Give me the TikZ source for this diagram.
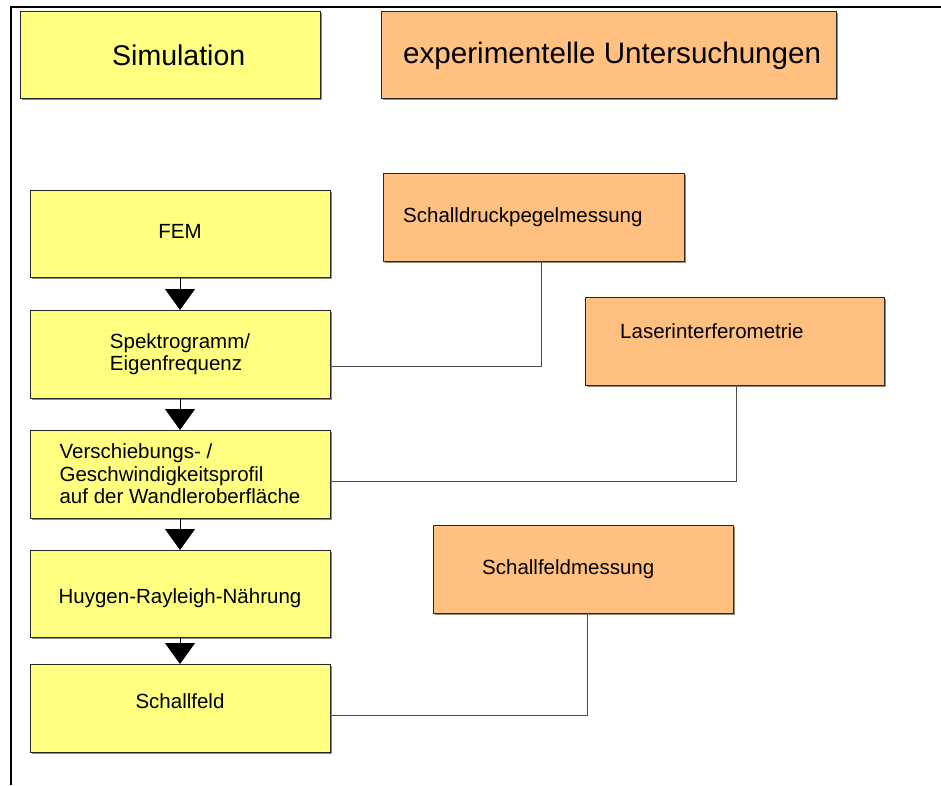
\documentclass[tikz,border=0pt]{standalone}
\usepackage{fontspec}
\setmainfont{Liberation Sans}
\usetikzlibrary{arrows.meta,shadows}
\definecolor{simfill}{RGB}{255,255,128}
\definecolor{expfill}{RGB}{255,192,128}
\definecolor{edge}{RGB}{40,40,40}
\begin{document}
\begin{tikzpicture}[x=1pt,y=-1pt,
  box/.style={anchor=north west, draw=edge, line width=0.8pt, inner sep=0pt, outer sep=0pt,
    drop shadow={shadow xshift=1.5pt, shadow yshift=-1.5pt, fill=black!45, opacity=1}},
  simbox/.style={box, fill=simfill, minimum width=300pt},
  expbox/.style={box, fill=expfill},
  small/.style={font=\fontsize{20.5}{22.5}\selectfont},
  txt/.style={anchor=base west, inner sep=0pt},
  flow/.style={line width=1pt, -{Triangle[width=30pt,length=21pt]}},
  link/.style={draw=black!70, line width=1pt}]
\useasboundingbox (0,0) rectangle (941,785);
% frame
\draw[line width=2.5pt] (11,785) -- (11,7) -- (941,7);
% header boxes
\node[simbox, minimum height=87pt] (sim) at (20,11) {};
\node[expbox, minimum width=455pt, minimum height=87pt] (exp) at (381,11) {};
\node[txt, font=\fontsize{28.5}{31}\selectfont] (simtxt) at (112,65) {Simulation};
\node[txt, font=\fontsize{29.6}{32}\selectfont] (exptxt) at (403,63) {experimentelle Untersuchungen};
% simulation chain
\node[simbox, minimum height=87pt] (fem) at (30,190) {};
\node[simbox, minimum height=88pt, small, align=left] (spek) at (30,310) {Spektrogramm/\\Eigenfrequenz};
\node[simbox, minimum height=88pt, small, align=left] (versch) at (30,430) {Verschiebungs- /\\Geschwindigkeitsprofil\\auf der Wandleroberfläche};
\node[simbox, minimum height=87pt] (huy) at (30,550) {};
\node[simbox, minimum height=88pt] (feld) at (30,664) {};
\node[small, inner sep=0pt] (femtxt) at ([yshift=2pt]fem.center) {FEM};
\node[small, inner sep=0pt] (huytxt) at ([yshift=-5pt]huy.center) {Huygen-Rayleigh-Nährung};
\node[small, inner sep=0pt] (feldtxt) at ([yshift=7pt]feld.center) {Schallfeld};
% experiments
\node[expbox, minimum width=301pt, minimum height=88pt] (sdm) at (383,173) {};
\node[expbox, minimum width=299pt, minimum height=88pt] (laser) at (585,297) {};
\node[expbox, minimum width=300pt, minimum height=88pt] (sfm) at (433,525) {};
\node[txt, small] (sdmtxt) at (403,222) {Schalldruckpegelmessung};
\node[txt, small] (lasertxt) at (620,338) {Laserinterferometrie};
\node[txt, small] (sfmtxt) at (482,574) {Schallfeldmessung};
% flow arrows
\draw[flow] (fem.south) -- (spek.north);
\draw[flow] (spek.south) -- (versch.north);
\draw[flow] (versch.south) -- (huy.north);
\draw[flow] (huy.south) -- (feld.north);
% links to measurements
\draw[link] ([yshift=-12pt]spek.east) -| ([xshift=7.5pt]sdm.south);
\draw[link] ([yshift=-7pt]versch.east) -| ([xshift=1.5pt]laser.south);
\draw[link] ([yshift=-7pt]feld.east) -| ([xshift=4pt]sfm.south);
\end{tikzpicture}
\end{document}
